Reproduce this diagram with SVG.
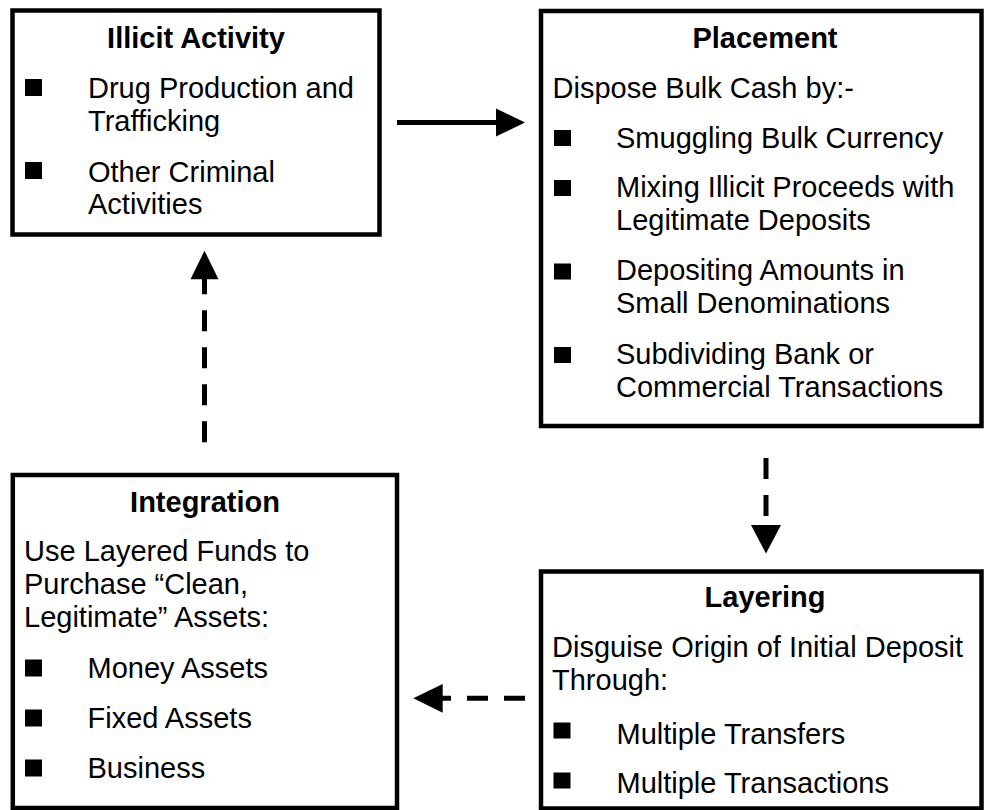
<svg xmlns="http://www.w3.org/2000/svg" width="984" height="810" viewBox="0 0 984 810">
  <style>
    .box { fill: #ffffff; stroke: #000000; stroke-width: 4.5; }
    .title { font-family: "Liberation Sans", Arial, sans-serif; font-size: 29px; font-weight: bold; fill: #000000; text-anchor: middle; }
    .body { font-family: "Liberation Sans", Arial, sans-serif; font-size: 29px; fill: #000000; }
    .bullet { fill: #000000; }
    .link { stroke: #000000; stroke-width: 5; fill: none; }
    .dash { stroke-dasharray: 21 16; }
    .head { fill: #000000; }
  </style>
  <rect width="984" height="810" fill="#ffffff"/>

  <!-- Stage boxes -->
  <g id="illicit-activity">
    <rect class="box" x="12.5" y="10.5" width="367" height="224"/>
    <text class="title" x="196" y="47.5">Illicit Activity</text>
    <rect class="bullet" x="25" y="79" width="17" height="17"/>
    <text class="body" x="88" y="98">Drug Production and</text>
    <text class="body" x="88" y="131">Trafficking</text>
    <rect class="bullet" x="25" y="162" width="17" height="17"/>
    <text class="body" x="88" y="182">Other Criminal</text>
    <text class="body" x="88" y="214">Activities</text>
  </g>

  <g id="placement">
    <rect class="box" x="541" y="11" width="440.5" height="415"/>
    <text class="title" x="765" y="47.5">Placement</text>
    <text class="body" x="552.5" y="97.5">Dispose Bulk Cash by:-</text>
    <rect class="bullet" x="554" y="130" width="17" height="16"/>
    <text class="body" x="616" y="147.5">Smuggling Bulk Currency</text>
    <rect class="bullet" x="554" y="180" width="17" height="16"/>
    <text class="body" x="616" y="197">Mixing Illicit Proceeds with</text>
    <text class="body" x="616" y="230">Legitimate Deposits</text>
    <rect class="bullet" x="554" y="263.5" width="17" height="16"/>
    <text class="body" x="616" y="280">Depositing Amounts in</text>
    <text class="body" x="616" y="313">Small Denominations</text>
    <rect class="bullet" x="554" y="347" width="17" height="16"/>
    <text class="body" x="616" y="363.5">Subdividing Bank or</text>
    <text class="body" x="616" y="396.5">Commercial Transactions</text>
  </g>

  <g id="layering">
    <rect class="box" x="541" y="571.5" width="440.5" height="237"/>
    <text class="title" x="765" y="606.5">Layering</text>
    <text class="body" x="552" y="656.5">Disguise Origin of Initial Deposit</text>
    <text class="body" x="552" y="690">Through:</text>
    <rect class="bullet" x="553.5" y="722.5" width="17" height="16"/>
    <text class="body" x="616.5" y="743.5">Multiple Transfers</text>
    <rect class="bullet" x="553.5" y="772.5" width="17" height="16"/>
    <text class="body" x="616.5" y="793">Multiple Transactions</text>
  </g>

  <g id="integration">
    <rect class="box" x="12.8" y="475" width="384.2" height="333"/>
    <text class="title" x="205" y="511.5">Integration</text>
    <text class="body" x="24" y="561">Use Layered Funds to</text>
    <text class="body" x="24" y="594">Purchase “Clean,</text>
    <text class="body" x="24" y="627">Legitimate” Assets:</text>
    <rect class="bullet" x="25" y="659.5" width="17" height="17"/>
    <text class="body" x="87.5" y="677.5">Money Assets</text>
    <rect class="bullet" x="25" y="709.5" width="17" height="17"/>
    <text class="body" x="87.5" y="727.5">Fixed Assets</text>
    <rect class="bullet" x="25" y="759.5" width="17" height="17"/>
    <text class="body" x="87.5" y="777.5">Business</text>
  </g>

  <!-- Connectors -->
  <g id="connectors">
    <!-- Illicit Activity to Placement (solid) -->
    <line class="link" x1="397" y1="122.5" x2="498" y2="122.5"/>
    <polygon class="head" points="496,108.5 525,122.5 496,136.5"/>
    <!-- Placement to Layering (dashed) -->
    <line class="link dash" x1="766" y1="458" x2="766" y2="527"/>
    <polygon class="head" points="751,525 781,525 766,553.5"/>
    <!-- Layering to Integration (dashed) -->
    <line class="link dash" x1="525" y1="698.3" x2="430" y2="698.3"/>
    <polygon class="head" points="413.3,698.3 442.7,684 442.7,712.7"/>
    <!-- Integration back to Illicit Activity (dashed) -->
    <line class="link dash" x1="204.5" y1="442.3" x2="204.5" y2="273"/>
    <polygon class="head" points="204.5,250.7 190.5,279.3 218.5,279.3"/>
  </g>
</svg>
